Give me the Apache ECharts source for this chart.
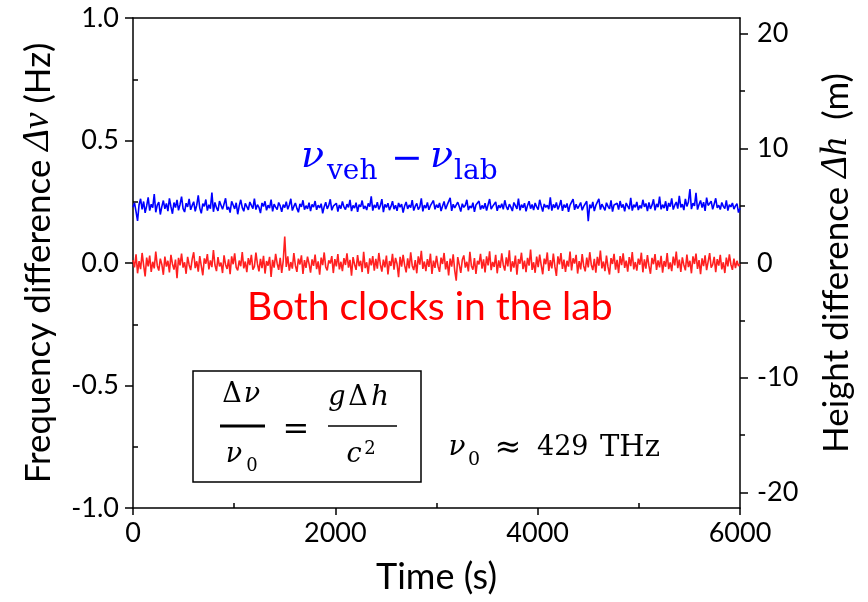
<!DOCTYPE html>
<html>
<head>
<meta charset="utf-8">
<script src="https://cdn.jsdelivr.net/npm/echarts@6/dist/echarts.min.js"></script>
<style>
  html, body { margin: 0; padding: 0; background: #fff; }
  #chart { width: 868px; height: 602px; }
</style>
</head>
<body>
<div id="chart"></div>
<script>
// Sampling interval of the frequency record (s)
const sampleStepSec = 15;

// Vehicle clock minus lab clock, in mHz, one value per sample
const vehMinusLabMilliHz = [
  228,245,210,172,238,262,219,251,205,233,268,214,240,226,281,207,236,249,198,230,
  255,221,243,212,264,230,201,247,226,258,215,239,271,222,208,244,229,262,217,235,
  250,211,236,276,224,203,242,231,259,214,238,222,287,209,247,226,213,253,236,219,
  241,264,218,229,206,252,237,221,246,199,233,258,226,211,243,230,217,249,235,222,
  263,218,238,227,204,245,231,252,215,236,224,259,211,240,228,218,247,233,209,238,
  226,250,219,237,262,214,231,245,223,207,241,229,256,218,234,221,246,212,239,228,
  253,217,236,225,242,203,230,248,221,235,260,215,232,226,244,210,237,222,251,229,
  218,240,227,258,212,235,224,246,209,238,229,255,221,233,216,243,230,272,214,237,
  225,248,219,234,261,208,239,227,244,216,231,252,220,236,213,245,228,240,206,233,
  249,221,237,226,257,214,232,243,218,229,264,211,236,224,247,217,234,229,255,219,
  238,226,245,212,233,251,220,236,228,266,213,240,225,219,248,231,210,242,227,236,
  258,216,233,224,246,209,237,229,253,218,235,222,244,214,238,261,220,231,227,249,
  213,236,225,242,219,256,230,217,240,228,212,247,234,221,263,215,238,226,244,211,
  235,252,222,239,216,245,229,218,258,233,210,241,227,236,220,268,214,239,225,247,
  219,234,257,213,238,226,243,209,236,229,261,217,240,222,233,247,215,231,226,252,
  171,238,224,249,212,235,227,262,218,240,228,215,246,231,221,256,210,237,229,244,
  218,253,226,239,211,245,232,220,266,214,238,227,249,216,235,223,258,229,243,212,
  247,221,236,260,215,241,228,271,219,238,224,252,213,245,230,264,218,236,249,222,
  274,227,240,216,262,231,249,302,220,244,233,286,218,239,255,226,248,213,267,235,
  228,252,219,241,264,225,236,218,247,231,222,256,214,238,229,245,220,233,242,206,
  224
];

// Both clocks in the lab, in mHz, one value per sample
const bothInLabMilliHz = [
  12,-18,35,-42,8,-25,41,-9,-55,22,-14,30,-36,5,-22,47,-11,-31,18,-6,
  -48,26,-15,9,-38,33,-4,-27,14,-62,21,-10,38,-19,3,-44,25,-8,-29,16,
  44,-21,7,-35,28,-12,-50,19,-3,36,-26,11,-17,53,-8,-33,24,-14,2,-41,
  31,-7,-24,15,-46,27,-5,39,-18,-30,10,-13,45,-22,6,-37,20,-9,33,-27,
  -15,42,-4,-34,17,-21,29,-43,8,-11,25,-57,13,-19,37,-2,-28,21,-40,9,
  108,-16,27,-31,4,-23,40,-10,-36,18,-6,31,-45,12,-20,26,-3,-39,15,-12,
  34,-25,7,-48,22,-9,43,-17,-30,11,-2,28,-41,16,-14,36,-26,5,-33,20,
  -8,39,-19,13,-52,24,-5,-28,32,-13,9,-37,46,-21,3,-44,19,-10,28,-31,
  17,-23,41,-6,-35,14,-18,30,-47,8,-12,37,-27,21,-4,-58,25,-15,33,-9,
  -38,19,-22,44,-11,-29,12,-42,27,-7,50,-24,6,-33,16,-16,38,-45,10,-20,
  29,-13,-36,22,-4,41,-26,8,-51,18,-15,35,-30,-72,24,-8,-40,13,31,-19,
  5,-34,46,-12,-27,20,-45,9,-6,37,-23,15,-38,27,-10,48,-29,4,-16,33,
  -42,11,-20,39,-8,-31,23,-14,52,-35,7,-19,30,-48,16,-3,42,-25,10,-37,
  21,-11,55,-28,3,-40,26,-17,34,-9,-46,18,-5,43,-32,12,-22,38,-14,-53,
  27,-6,40,-24,14,-36,9,-15,47,-30,19,-2,33,-43,8,-26,36,-12,-34,22,
  -18,44,-7,-29,17,-39,25,-11,51,-22,6,-33,30,-16,-47,20,-4,37,-27,13,
  -41,28,-9,39,-20,10,-35,24,-13,45,-26,4,-31,18,-7,42,-38,15,-23,32,
  -12,-44,21,-5,36,-28,11,-18,29,-39,8,-15,40,-25,2,-33,26,-10,47,-21,
  14,-36,23,-8,-30,34,-17,9,-42,27,-4,38,-24,12,-46,19,-13,31,-29,6,
  40,-19,-7,25,-37,16,-11,33,-26,3,-41,22,-14,35,-6,-28,18,-21,9,-12,
  -4
];

// Axis ranges and tick values
const freqRangeHz = [-1, 1];
const freqTickStep = 0.5;
const freqMinorTicks = [-0.75, -0.25, 0.25, 0.75];
const timeRangeSec = [0, 6000];
const timeTickStep = 2000;
const timeMinorTicks = [1000, 3000, 5000];
// Δh = Δν·c²/(g·ν0), with ν0 ≈ 429 THz: 1 Hz ↔ about 21.36 m
const heightPerHz = 21.36;
const heightTicks = [-20, -10, 0, 10, 20];
const heightMinorTicks = [-15, -5, 5, 15];

function toPairs(milliHz) {
  return milliHz.map((v, i) => [i * sampleStepSec, v / 1000]);
}

const chart = echarts.init(document.getElementById('chart'), null, { renderer: 'canvas' });

const sansFont = 'Lato';
const axisLineStyle = { color: '#000', width: 1.5 };
const tickFont = { color: '#000', fontFamily: sansFont, fontSize: 27 };

// an axis that only draws a set of short (minor) ticks;
// `flip` turns the tick side so they point out of the plot like the major ones
function minorTickAxis(extra, values, range, flip) {
  return Object.assign({
    type: 'value',
    min: range[0], max: range[1],
    axisLine: { show: false, onZero: false },
    axisTick: { show: true, inside: flip, length: 5, lineStyle: axisLineStyle, customValues: values },
    axisLabel: { show: false, customValues: values },
    splitLine: { show: false }
  }, extra);
}

const heightRange = [freqRangeHz[0] * heightPerHz, freqRangeHz[1] * heightPerHz];

const option = {
  animation: false,
  backgroundColor: '#fff',
  grid: { left: 133, right: 128, top: 18, bottom: 94 },
  xAxis: [
    {
      type: 'value',
      position: 'bottom',
      min: timeRangeSec[0], max: timeRangeSec[1], interval: timeTickStep,
      axisLine: { show: true, onZero: false, lineStyle: axisLineStyle },
      axisTick: { show: true, inside: false, length: 7, lineStyle: axisLineStyle },
      splitLine: { show: false },
      axisLabel: Object.assign({ margin: 12, formatter: v => String(v) }, tickFont),
      name: 'Time (s)',
      nameLocation: 'middle',
      nameGap: 51,
      nameTextStyle: { color: '#000', fontFamily: sansFont, fontSize: 36 }
    },
    {
      type: 'value',
      position: 'top',
      min: timeRangeSec[0], max: timeRangeSec[1], interval: timeTickStep,
      axisLine: { show: true, onZero: false, lineStyle: axisLineStyle },
      axisTick: { show: false },
      axisLabel: { show: false },
      splitLine: { show: false }
    },
    minorTickAxis({ position: 'bottom' }, timeMinorTicks, timeRangeSec, true)
  ],
  yAxis: [
    {
      type: 'value',
      position: 'left',
      min: freqRangeHz[0], max: freqRangeHz[1], interval: freqTickStep,
      axisLine: { show: true, onZero: false, lineStyle: axisLineStyle },
      axisTick: { show: true, inside: false, length: 8, lineStyle: axisLineStyle },
      splitLine: { show: false },
      axisLabel: Object.assign({ margin: 14, formatter: v => v.toFixed(1) }, tickFont),
      name: '{t|Frequency difference }{i|Δν}{t| (Hz)}',
      nameLocation: 'middle',
      nameRotate: 90,
      nameGap: 76,
      nameTextStyle: {
        rich: {
          t: { color: '#000', fontFamily: sansFont, fontSize: 35 },
          i: { color: '#000', fontFamily: 'Liberation Serif', fontStyle: 'italic', fontSize: 37 }
        }
      }
    },
    {
      type: 'value',
      position: 'right',
      min: heightRange[0], max: heightRange[1],
      axisLine: { show: true, onZero: false, lineStyle: axisLineStyle },
      axisTick: { show: true, inside: false, length: 8, lineStyle: axisLineStyle, customValues: heightTicks },
      splitLine: { show: false },
      axisLabel: Object.assign({ margin: 17, customValues: heightTicks }, tickFont),
      name: '{t|Height difference }{i|Δh}{t|  (m)}',
      nameLocation: 'middle',
      nameRotate: 90,
      nameGap: 78,
      nameTextStyle: {
        rich: {
          t: { color: '#000', fontFamily: sansFont, fontSize: 35 },
          i: { color: '#000', fontFamily: 'Liberation Serif', fontStyle: 'italic', fontSize: 37 }
        }
      }
    },
    minorTickAxis({ position: 'right' }, heightMinorTicks, heightRange, false),
    minorTickAxis({ position: 'left' }, freqMinorTicks, freqRangeHz, true)
  ],
  series: [
    {
      name: 'veh - lab',
      type: 'line',
      xAxisIndex: 0, yAxisIndex: 0,
      data: toPairs(vehMinusLabMilliHz),
      showSymbol: false,
      lineStyle: { color: '#0000ff', width: 1.6 },
      z: 3
    },
    {
      name: 'lab - lab',
      type: 'line',
      xAxisIndex: 0, yAxisIndex: 0,
      data: toPairs(bothInLabMilliHz),
      showSymbol: false,
      lineStyle: { color: '#ff2020', width: 1.6 },
      z: 3
    }
  ],
  graphic: [
    // ν_veh − ν_lab
    { type: 'text', left: 301, top: 138, style: { text: 'ν', fill: '#0000ff', font: 'italic 38px "DejaVu Serif"' } },
    { type: 'text', left: 327, top: 158, style: { text: 'veh', fill: '#0000ff', font: '28px "DejaVu Serif"' } },
    { type: 'text', left: 391, top: 141, style: { text: '−', fill: '#0000ff', font: '38px "DejaVu Serif"' } },
    { type: 'text', left: 430, top: 138, style: { text: 'ν', fill: '#0000ff', font: 'italic 38px "DejaVu Serif"' } },
    { type: 'text', left: 454, top: 158, style: { text: 'lab', fill: '#0000ff', font: '28px "DejaVu Serif"' } },

    // label of the lab-lab trace
    { type: 'text', left: 247, top: 288, style: { text: 'Both clocks in the lab', fill: '#ff0000', font: '39px Lato' } },

    // boxed redshift relation
    { type: 'rect', shape: { x: 193, y: 371, width: 228, height: 111 }, style: { fill: 'none', stroke: '#000', lineWidth: 1.5 } },
    { type: 'text', x: 232, y: 395, style: { text: 'Δ', fill: '#000', font: '27px "DejaVu Serif"', align: 'center', verticalAlign: 'middle' } },
    { type: 'text', x: 252, y: 395, style: { text: 'ν', fill: '#000', font: 'italic 27px "DejaVu Serif"', align: 'center', verticalAlign: 'middle' } },
    { type: 'line', shape: { x1: 220, y1: 426, x2: 265, y2: 426 }, style: { stroke: '#000', lineWidth: 3 } },
    { type: 'text', x: 234, y: 455, style: { text: 'ν', fill: '#000', font: 'italic 27px "DejaVu Serif"', align: 'center', verticalAlign: 'middle' } },
    { type: 'text', x: 252, y: 466, style: { text: '0', fill: '#000', font: '18px "DejaVu Serif"', align: 'center', verticalAlign: 'middle' } },
    { type: 'text', x: 296, y: 431, style: { text: '=', fill: '#000', font: '32px "DejaVu Serif"', align: 'center', verticalAlign: 'middle' } },
    { type: 'text', x: 337, y: 398, style: { text: 'g', fill: '#000', font: 'italic 27px "DejaVu Serif"', align: 'center', verticalAlign: 'middle' } },
    { type: 'text', x: 358, y: 398, style: { text: 'Δ', fill: '#000', font: '27px "DejaVu Serif"', align: 'center', verticalAlign: 'middle' } },
    { type: 'text', x: 380, y: 398, style: { text: 'h', fill: '#000', font: 'italic 28px "DejaVu Serif"', align: 'center', verticalAlign: 'middle' } },
    { type: 'line', shape: { x1: 328, y1: 426, x2: 397, y2: 426 }, style: { stroke: '#000', lineWidth: 1.5 } },
    { type: 'text', x: 354, y: 455, style: { text: 'c', fill: '#000', font: 'italic 27px "DejaVu Serif"', align: 'center', verticalAlign: 'middle' } },
    { type: 'text', x: 370, y: 449, style: { text: '2', fill: '#000', font: '18px "DejaVu Serif"', align: 'center', verticalAlign: 'middle' } },

    // carrier frequency
    { type: 'text', x: 457, y: 448, style: { text: 'ν', fill: '#000', font: 'italic 28px "DejaVu Serif"', align: 'center', verticalAlign: 'middle' } },
    { type: 'text', x: 474, y: 460, style: { text: '0', fill: '#000', font: '19px "DejaVu Serif"', align: 'center', verticalAlign: 'middle' } },
    { type: 'text', x: 508, y: 449, style: { text: '≈', fill: '#000', font: '32px "DejaVu Serif"', align: 'center', verticalAlign: 'middle' } },
    { type: 'text', x: 537, y: 448, style: { text: '429', fill: '#000', font: '27px "DejaVu Serif"', align: 'left', verticalAlign: 'middle' } },
    { type: 'text', x: 600, y: 448, style: { text: 'THz', fill: '#000', font: '29px "DejaVu Serif"', align: 'left', verticalAlign: 'middle' } }
  ]
};

chart.setOption(option);
</script>
</body>
</html>
